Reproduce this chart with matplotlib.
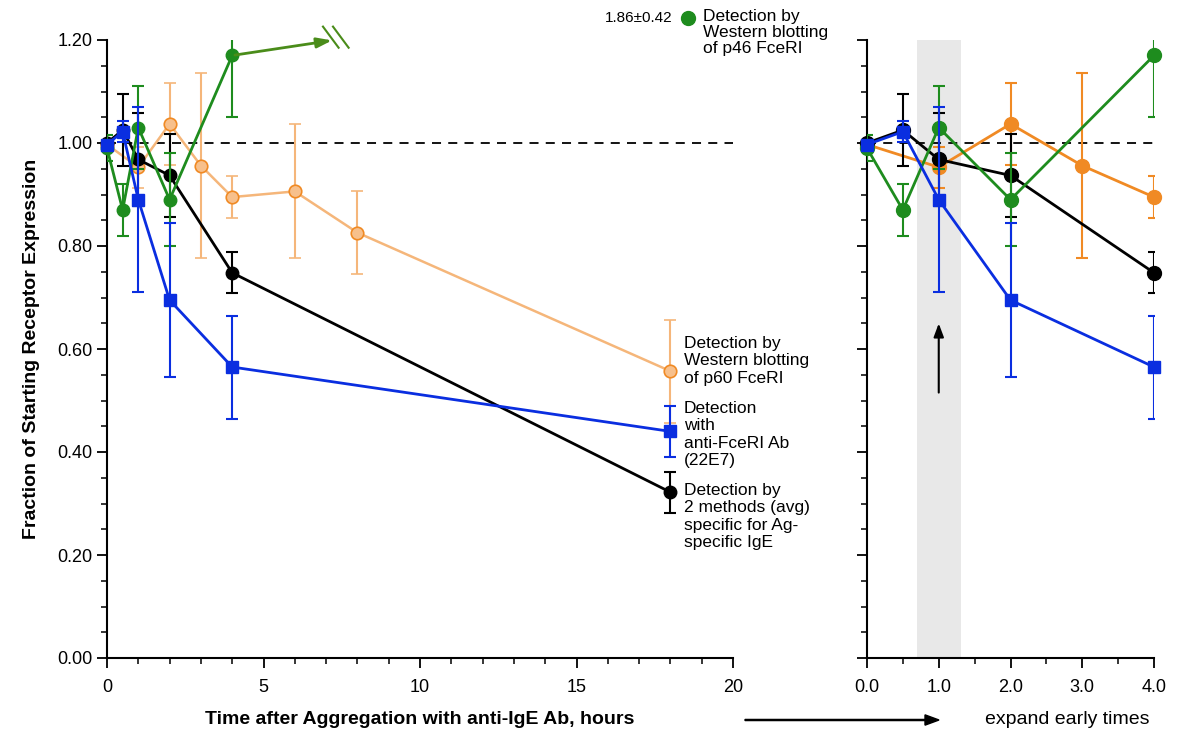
import matplotlib
matplotlib.use("Agg")
import matplotlib.pyplot as plt
from matplotlib.ticker import MultipleLocator, FormatStrFormatter

plt.rcParams['font.family'] = ['Liberation Sans', 'DejaVu Sans']

# time points (hours) and values
t_black = [0, 0.5, 1, 2, 4, 18]
y_black = [1.0, 1.025, 0.968, 0.937, 0.748, 0.322]
e_black = [0.0, 0.07, 0.09, 0.08, 0.04, 0.04]

t_blue = [0, 0.5, 1, 2, 4, 18]
y_blue = [0.997, 1.022, 0.89, 0.695, 0.565, 0.44]
e_blue = [0.0, 0.02, 0.18, 0.15, 0.10, 0.05]

t_green = [0, 0.5, 1, 2, 4]
y_green = [0.99, 0.87, 1.03, 0.89, 1.17]
e_green = [0.025, 0.05, 0.08, 0.09, 0.12]
green_offscale = "1.86\u00b10.42"

t_orange = [0, 1, 2, 3, 4, 6, 8, 18]
y_orange = [0.997, 0.953, 1.037, 0.956, 0.895, 0.906, 0.826, 0.557]
e_orange = [0.0, 0.04, 0.08, 0.18, 0.04, 0.13, 0.08, 0.10]

BLACK = '#000000'
BLUE = '#0a2ee0'
GREEN = '#1e8c1e'
ORANGE = '#f08a24'
LORANGE = '#f5b67a'

W, H = 1183, 736
fig = plt.figure(figsize=(W / 100, H / 100), dpi=100)

def px(x0, y0, x1, y1):
    return [x0 / W, 1 - y1 / H, (x1 - x0) / W, (y1 - y0) / H]

axL = fig.add_axes(px(107, 40, 733, 658))
axR = fig.add_axes(px(867, 40, 1154, 658))

def series(ax, t, y, e, color, marker, ms, z, light=False):
    kw = dict(color=color, marker=marker, markersize=ms, lw=2 if not light else 1.8,
              capsize=4, elinewidth=1.5, capthick=1.5, zorder=z)
    if light:
        kw.update(markerfacecolor='#f7c08c', markeredgecolor=ORANGE, markeredgewidth=1.2)
    c = ax.errorbar(t, y, yerr=e, **kw)
    # points sit on the spine at t=0, so let the line and markers overhang
    c.lines[0].set_clip_on(False)
    return c

# left panel
series(axL, t_orange, y_orange, e_orange, LORANGE, 'o', 9, 2, light=True)
series(axL, t_black, y_black, e_black, BLACK, 'o', 9, 3)
series(axL, t_green, y_green, e_green, GREEN, 'o', 9, 4)
series(axL, t_blue, y_blue, e_blue, BLUE, 's', 8, 5)
axL.axhline(1.0, color='black', ls=(0, (5, 4)), lw=1.3, zorder=1)

# off-scale green point: arrow + break marks
axL.annotate('', xy=(7.28, 1.20), xytext=(t_green[-1], y_green[-1]),
             arrowprops=dict(arrowstyle='-|>,head_length=0.9,head_width=0.3',
                             color='#4a8c1a', lw=2), annotation_clip=False, zorder=6)
for dx in (0, 0.32):
    axL.plot([6.9 + dx, 7.4 + dx], [1.226, 1.185], color='#4a8c1a', lw=1.5, clip_on=False)

axL.set_xlim(0, 20)
axL.set_ylim(0, 1.2)
axL.xaxis.set_major_locator(MultipleLocator(5))
axL.xaxis.set_minor_locator(MultipleLocator(1))
axL.yaxis.set_major_locator(MultipleLocator(0.2))
axL.yaxis.set_minor_locator(MultipleLocator(0.05))
axL.yaxis.set_major_formatter(FormatStrFormatter('%.2f'))

# right panel (expanded early times)
axR.axvspan(0.7, 1.31, color='#e8e8e8', zorder=0, lw=0)
mask = [i for i, t in enumerate(t_orange) if t <= 4]
series(axR, [t_orange[i] for i in mask], [y_orange[i] for i in mask],
       [e_orange[i] for i in mask], ORANGE, 'o', 10, 2)
mask = [i for i, t in enumerate(t_black) if t <= 4]
series(axR, [t_black[i] for i in mask], [y_black[i] for i in mask],
       [e_black[i] for i in mask], BLACK, 'o', 10, 3)
series(axR, t_green, y_green, e_green, GREEN, 'o', 10, 4)
mask = [i for i, t in enumerate(t_blue) if t <= 4]
series(axR, [t_blue[i] for i in mask], [y_blue[i] for i in mask],
       [e_blue[i] for i in mask], BLUE, 's', 9, 5)
axR.axhline(1.0, color='black', ls=(0, (5, 4)), lw=1.3, zorder=1)
axR.annotate('', xy=(1.0, 0.655), xytext=(1.0, 0.51),
             arrowprops=dict(arrowstyle='-|>,head_length=0.8,head_width=0.3',
                             color='black', lw=1.5))
axR.set_xlim(0, 4)
axR.set_ylim(0, 1.2)
axR.xaxis.set_major_locator(MultipleLocator(1))
axR.xaxis.set_minor_locator(MultipleLocator(0.5))
axR.xaxis.set_major_formatter(FormatStrFormatter('%.1f'))
axR.yaxis.set_major_locator(MultipleLocator(0.2))
axR.yaxis.set_minor_locator(MultipleLocator(0.05))
axR.set_yticklabels([])

for ax in (axL, axR):
    for s in ('top', 'right'):
        ax.spines[s].set_visible(False)
    for s in ('left', 'bottom'):
        ax.spines[s].set_linewidth(1.5)
    ax.tick_params(which='major', direction='out', length=7, width=1.3, labelsize=13)
    ax.tick_params(which='minor', direction='out', length=4, width=1.1)
    ax.tick_params(axis='x', pad=8)

axL.set_ylabel('Fraction of Starting Receptor Expression', fontsize=14,
               fontweight='bold', labelpad=12)

# series labels
lab = dict(fontsize=12.5, va='top', ha='left', linespacing=1.2)
fig.text(684 / W, 1 - 336 / H, 'Detection by\nWestern blotting\nof p60 FceRI', **lab)
fig.text(684 / W, 1 - 401 / H, 'Detection\nwith\nanti-FceRI Ab\n(22E7)', **lab)
fig.text(684 / W, 1 - 483 / H, 'Detection by\n2 methods (avg)\nspecific for Ag-\nspecific IgE', **lab)
lab['linespacing'] = 1.08
fig.text(703 / W, 1 - 9 / H, 'Detection by\nWestern blotting\nof p46 FceRI', **lab)
fig.text(672 / W, 1 - 18 / H, green_offscale, fontsize=11, ha='right', va='center')
fig.lines.append(plt.Line2D([688 / W], [1 - 18 / H], marker='o', ms=10, color=GREEN,
                            transform=fig.transFigure))

fig.text(420 / W, 1 - 720 / H, 'Time after Aggregation with anti-IgE Ab, hours',
         fontsize=14, fontweight='bold', ha='center', va='center')
fig.patches.append(matplotlib.patches.FancyArrow(745 / W, 1 - 720 / H, 180 / W, 0,
                   width=0.0015, head_width=0.014, head_length=14 / W,
                   length_includes_head=False, color='black', transform=fig.transFigure))
fig.text(1067 / W, 1 - 720 / H, 'expand early times', fontsize=14,
         ha='center', va='center')

fig.savefig('out.png', dpi=100)
